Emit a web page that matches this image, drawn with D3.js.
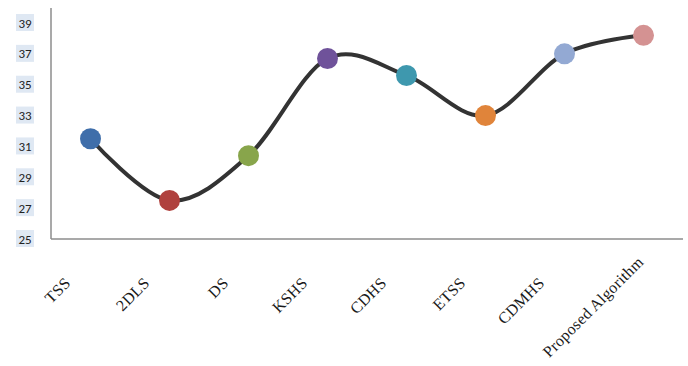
<!DOCTYPE html>
<html>
<head>
<meta charset="utf-8">
<script src="https://cdn.jsdelivr.net/npm/d3@7"></script>
<style>
  body { margin: 0; background: white; }
  #viz_canvas { width: 688px; height: 366px; }
</style>
</head>
<body>
<div id="viz_canvas"></div>
<script>
"use strict";

var categories = ["TSS", "2DLS", "DS", "KSHS", "CDHS", "ETSS", "CDMHS", "Proposed Algorithm"];
var values = [31.5, 27.5, 30.4, 36.7, 35.6, 33.0, 37.0, 38.2];
var pointColors = ["#3f6eaa", "#b0413e", "#88a54b", "#6f529a", "#3e98ae", "#e0843a", "#93a9d3", "#d49292"];
var yTicks = [25, 27, 29, 31, 33, 35, 37, 39];

var width = 688, height = 366;
var margin = { left: 51, right: 5, top: 8, bottom: 127 };

var svg = d3.select("#viz_canvas").append("svg")
    .attr("width", width)
    .attr("height", height);

var x = d3.scaleBand()
    .domain(categories)
    .range([margin.left, width - margin.right]);

var y = d3.scaleLinear()
    .domain([25, 39])
    .range([height - margin.bottom, 23]);

var cx = function (d, i) { return x(categories[i]) + x.bandwidth() / 2; };

// axis lines
svg.append("line")
    .attr("x1", margin.left).attr("x2", margin.left)
    .attr("y1", margin.top).attr("y2", y(25))
    .attr("stroke", "#8c8c8c").attr("stroke-width", 1.5);
svg.append("line")
    .attr("x1", margin.left).attr("x2", width - margin.right)
    .attr("y1", y(25)).attr("y2", y(25))
    .attr("stroke", "#8c8c8c").attr("stroke-width", 1.5);

// y tick labels with the light highlight behind them
var yLabel = svg.append("g").selectAll("g")
    .data(yTicks)
    .enter().append("g")
    .attr("transform", d => "translate(0," + y(d) + ")");
yLabel.append("rect")
    .attr("x", 16).attr("y", -9)
    .attr("width", 18).attr("height", 17)
    .attr("fill", "#dfe8f3");
yLabel.append("text")
    .attr("x", 25).attr("dy", "0.35em")
    .attr("text-anchor", "middle")
    .style("font-family", "Carlito, 'Liberation Sans', sans-serif")
    .style("font-size", "13px")
    .style("fill", "#222")
    .text(d => d);

// x labels, rotated
svg.append("g").selectAll("text")
    .data(categories)
    .enter().append("text")
    .attr("text-anchor", "end")
    .attr("transform", function (d, i) {
        var lx = cx(d, i) - 19, ly = 284;
        if (d.length > 10) { lx = cx(d, i) + 1; ly = 263; }
        return "translate(" + lx + "," + ly + ") rotate(-45)";
    })
    .style("font-family", "'Liberation Serif', 'DejaVu Serif', serif")
    .style("font-size", "16px")
    .style("letter-spacing", "0.3px")
    .style("fill", "#1a1a1a")
    .text(d => d);

// smooth line
var line = d3.line()
    .x(cx)
    .y(d => y(d))
    .curve(d3.curveCardinal.tension(0));

svg.append("path")
    .datum(values)
    .attr("d", line)
    .attr("fill", "none")
    .attr("stroke", "#333333")
    .attr("stroke-width", 4);

svg.append("g").selectAll("circle")
    .data(values)
    .enter().append("circle")
    .attr("cx", cx)
    .attr("cy", d => y(d))
    .attr("r", 10.5)
    .attr("fill", (d, i) => pointColors[i]);
</script>
</body>
</html>
